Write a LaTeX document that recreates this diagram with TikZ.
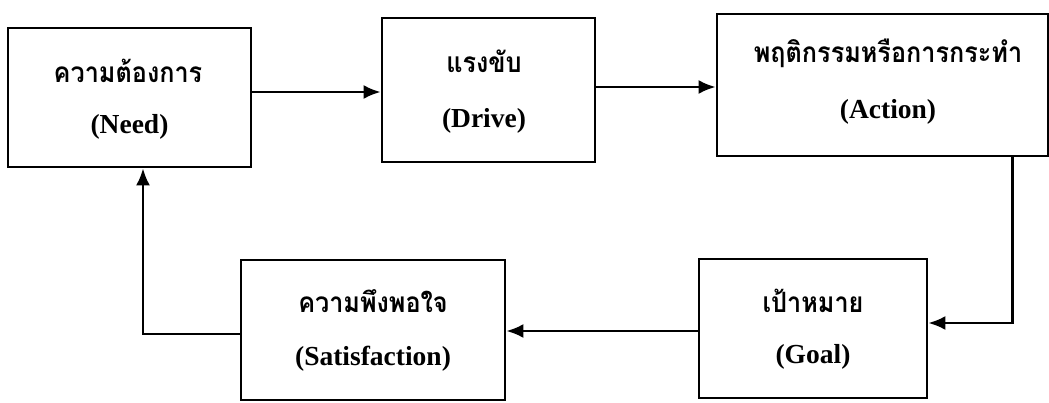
\documentclass[tikz,border=0pt]{standalone}
\usepackage{fontspec}
\setmainfont{Liberation Serif}
\newfontfamily\thaifont[Script=Thai, FakeStretch=0.9]{Loma}
\usetikzlibrary{arrows.meta}
\tikzset{
  box/.style={draw=black, line width=2.8pt, fill=white, inner sep=0pt},
  thai/.style={font=\thaifont\bfseries\fontsize{28}{30}\selectfont, inner sep=0pt},
  eng/.style={font=\bfseries\fontsize{27.5}{30}\selectfont, inner sep=0pt},
  arr/.style={line width=2.4pt, -{Latex[length=17pt,width=14pt]}}
}
\begin{document}
\begin{tikzpicture}[x=1pt,y=-1pt]
\useasboundingbox[fill=white] (0,0) rectangle (1049,403);
% boxes
\node[box, minimum width=243pt, minimum height=139pt] (need) at (129.5,97.5) {};
\node[box, minimum width=213pt, minimum height=144pt] (drive) at (488.5,90) {};
\node[box, minimum width=331pt, minimum height=142pt] (action) at (882.5,85) {};
\node[box, minimum width=228pt, minimum height=139pt] (goal) at (813,328.5) {};
\node[box, minimum width=264pt, minimum height=140pt] (sat) at (373,330) {};
% texts
\node[thai] (needT) at (128,71) {ความต้องการ};
\node[eng] (needE) at (129.5,127) {(Need)};
\node[thai] (driveT) at (484,61) {แรงขับ};
\node[eng] (driveE) at (484,121) {(Drive)};
\node[thai] (actionT) at (888,53) {พฤติกรรมหรือการกระทำ};
\node[eng] (actionE) at (888,112) {(Action)};
\node[thai] (goalT) at (813,301) {เป้าหมาย};
\node[eng] (goalE) at (813,357) {(Goal)};
\node[thai] (satT) at (373,301) {ความพึงพอใจ};
\node[eng] (satE) at (373,359) {(Satisfaction)};
% connectors
\draw[arr] ([yshift=5.5pt]need.east) -- ([yshift=5.5pt]need.east -| drive.west);
\draw[arr] ([yshift=3pt]drive.east) -- ([yshift=3pt]drive.east -| action.west);
\draw[arr] ([xshift=-37pt]action.south east) |- ([yshift=5.5pt]goal.east);
\draw[arr] ([yshift=-2.5pt]goal.west) -- ([yshift=-2.5pt]goal.west -| sat.east);
\draw[arr] ([yshift=-4pt]sat.west) -| ([xshift=13.5pt]need.south);
\end{tikzpicture}
\end{document}
